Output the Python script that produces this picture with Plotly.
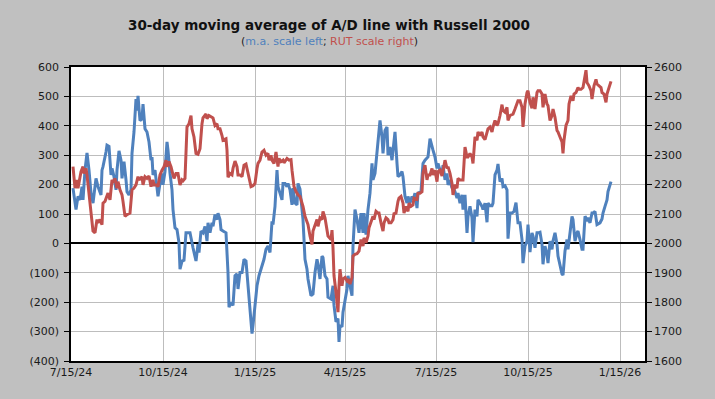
import plotly.graph_objects as go

# ---------------- data ----------------
ma_dates = [
    "2024-07-17", "2024-07-20", "2024-07-22", "2024-07-24", "2024-07-26", "2024-07-27", "2024-07-29", "2024-07-31",
    "2024-08-02", "2024-08-04", "2024-08-06", "2024-08-09", "2024-08-11", "2024-08-14", "2024-08-15", "2024-08-16",
    "2024-08-19", "2024-08-20", "2024-08-22", "2024-08-24", "2024-08-25", "2024-08-27", "2024-08-29", "2024-08-30",
    "2024-09-01", "2024-09-03", "2024-09-04", "2024-09-06", "2024-09-08", "2024-09-09", "2024-09-11", "2024-09-13",
    "2024-09-14", "2024-09-16", "2024-09-18", "2024-09-19", "2024-09-20", "2024-09-22", "2024-09-24", "2024-09-25",
    "2024-09-27", "2024-09-29", "2024-10-01", "2024-10-03", "2024-10-04", "2024-10-05", "2024-10-07", "2024-10-09",
    "2024-10-10", "2024-10-12", "2024-10-14", "2024-10-15", "2024-10-17", "2024-10-19", "2024-10-20", "2024-10-22",
    "2024-10-24", "2024-10-25", "2024-10-27", "2024-10-29", "2024-10-31", "2024-11-01", "2024-11-03", "2024-11-05",
    "2024-11-07", "2024-11-11", "2024-11-13", "2024-11-14", "2024-11-17", "2024-11-19", "2024-11-20", "2024-11-22",
    "2024-11-24", "2024-11-26", "2024-11-28", "2024-11-29", "2024-12-01", "2024-12-03", "2024-12-04", "2024-12-06",
    "2024-12-08", "2024-12-09", "2024-12-11", "2024-12-12", "2024-12-14", "2024-12-17", "2024-12-19", "2024-12-20",
    "2024-12-22", "2024-12-24", "2024-12-26", "2024-12-28", "2024-12-29", "2024-12-31", "2025-01-02", "2025-01-04",
    "2025-01-06", "2025-01-08", "2025-01-10", "2025-01-12", "2025-01-13", "2025-01-15", "2025-01-17", "2025-01-19",
    "2025-01-22", "2025-01-24", "2025-01-26", "2025-01-28", "2025-01-30", "2025-02-01", "2025-02-02", "2025-02-04",
    "2025-02-06", "2025-02-07", "2025-02-09", "2025-02-11", "2025-02-12", "2025-02-14", "2025-02-16", "2025-02-17",
    "2025-02-19", "2025-02-21", "2025-02-22", "2025-02-24", "2025-02-26", "2025-02-27", "2025-03-01", "2025-03-03",
    "2025-03-04", "2025-03-06", "2025-03-08", "2025-03-09", "2025-03-12", "2025-03-14", "2025-03-16", "2025-03-18",
    "2025-03-19", "2025-03-21", "2025-03-23", "2025-03-24", "2025-03-26", "2025-03-28", "2025-03-29", "2025-04-01",
    "2025-04-03", "2025-04-04", "2025-04-06", "2025-04-08", "2025-04-09", "2025-04-10", "2025-04-12", "2025-04-13",
    "2025-04-15", "2025-04-17", "2025-04-18", "2025-04-20", "2025-04-22", "2025-04-23", "2025-04-25", "2025-04-27",
    "2025-04-29", "2025-05-01", "2025-05-03", "2025-05-04", "2025-05-06", "2025-05-08", "2025-05-10", "2025-05-12",
    "2025-05-13", "2025-05-15", "2025-05-17", "2025-05-18", "2025-05-20", "2025-05-22", "2025-05-23", "2025-05-25",
    "2025-05-27", "2025-05-28", "2025-05-30", "2025-06-01", "2025-06-02", "2025-06-04", "2025-06-06", "2025-06-07",
    "2025-06-09", "2025-06-11", "2025-06-12", "2025-06-14", "2025-06-16", "2025-06-17", "2025-06-19", "2025-06-21",
    "2025-06-22", "2025-06-24", "2025-06-26", "2025-06-27", "2025-06-30", "2025-07-02", "2025-07-04", "2025-07-07",
    "2025-07-09", "2025-07-11", "2025-07-12", "2025-07-14", "2025-07-16", "2025-07-17", "2025-07-19", "2025-07-21",
    "2025-07-22", "2025-07-24", "2025-07-26", "2025-07-27", "2025-07-29", "2025-07-31", "2025-08-01", "2025-08-03",
    "2025-08-05", "2025-08-06", "2025-08-08", "2025-08-10", "2025-08-11", "2025-08-13", "2025-08-15", "2025-08-16",
    "2025-08-18", "2025-08-20", "2025-08-21", "2025-08-23", "2025-08-25", "2025-08-26", "2025-08-28", "2025-08-30",
    "2025-08-31", "2025-09-02", "2025-09-04", "2025-09-05", "2025-09-07", "2025-09-09", "2025-09-10", "2025-09-12",
    "2025-09-14", "2025-09-15", "2025-09-17", "2025-09-19", "2025-09-20", "2025-09-22", "2025-09-24", "2025-09-25",
    "2025-09-27", "2025-09-29", "2025-10-01", "2025-10-03", "2025-10-05", "2025-10-07", "2025-10-09", "2025-10-10",
    "2025-10-12", "2025-10-14", "2025-10-15", "2025-10-17", "2025-10-19", "2025-10-20", "2025-10-22", "2025-10-24",
    "2025-10-25", "2025-10-27", "2025-10-29", "2025-10-30", "2025-11-01", "2025-11-03", "2025-11-04", "2025-11-06",
    "2025-11-08", "2025-11-09", "2025-11-11", "2025-11-13", "2025-11-14", "2025-11-16", "2025-11-18", "2025-11-19",
    "2025-11-21", "2025-11-23", "2025-11-24", "2025-11-26", "2025-11-28", "2025-11-29", "2025-12-01", "2025-12-03",
    "2025-12-04", "2025-12-06", "2025-12-08", "2025-12-09", "2025-12-11", "2025-12-13", "2025-12-14", "2025-12-16",
    "2025-12-18", "2025-12-19", "2025-12-21", "2025-12-23", "2025-12-24", "2025-12-26", "2025-12-28", "2025-12-29",
    "2025-12-31", "2026-01-02", "2026-01-03", "2026-01-05", "2026-01-06",
]
ma_values = [
    188, 115, 160, 148, 193, 148, 249, 308,
    249, 171, 137, 221, 193, 165, 249, 261,
    311, 334, 330, 233, 255, 227, 182, 249,
    315, 283, 221, 278, 216, 176, 165, 182,
    306, 379, 491, 452, 502, 418, 424, 474,
    390, 379, 345, 283, 294, 233, 249, 171,
    160, 204, 238, 199, 244, 345, 317, 238,
    182, 115, 53, 47, 2, -88, -60, -57,
    36, 36, -9, -15, -60, -3, -31, 42,
    36, 58, 8, 70, 36, 70, 58, 98,
    81, 103, 81, 47, 42, 36, -99, -217,
    -200, -211, -110, -104, -155, -99, -99, -54,
    -60, -144, -234, -307, -279, -200, -144, -110,
    -76, -54, -20, -9, -31, 75, 64, 126,
    249, 193, 171, 148, 204, 204, 193, 204,
    182, 131, 188, 137, 131, 204, 185, 103,
    81, -54, -88, -121, -178, -172, -99, -54,
    -71, -121, -43, -48, -110, -121, -183, -189,
    -144, -211, -267, -256, -335, -279, -284, -234,
    -200, -155, -110, -144, -178, -9, 115, 81,
    36, 103, 36, 103, 30, 115, 171, 272,
    216, 238, 317, 356, 418, 362, 306, 384,
    396, 300, 328, 283, 317, 379, 272, 227,
    233, 244, 227, 160, 137, 160, 137, 160,
    148, 171, 120, 171, 176, 272, 283, 294,
    356, 322, 317, 294, 255, 272, 249, 238,
    266, 216, 238, 199, 216, 188, 193, 176,
    154, 171, 137, 165, 115, 165, 36, 92,
    126, 87, 4, 115, 92, 148, 137, 126,
    115, 137, 72, 137, 128, 128, 137, 233,
    249, 270, 210, 221, 193, 196, 182, 16,
    103, 103, 109, 139, 70, 70, 13, -67,
    -9, 8, 64, -30, 36, 25, -15, 36,
    36, 38, -3, -71, -9, -37, -67, 8,
    -20, 8, 36, -3, -43, -76, -104, -108,
    -26, 13, -20, 36, 92, 81, 8, 36,
    42, 13, -20, -20, 92, 81, 87, 70,
    103, 103, 109, 64, 67, 70, 83, 103,
    126, 148, 176, 204, 210,
]

rut_dates = [
    "2024-07-17", "2024-07-19", "2024-07-21", "2024-07-22", "2024-07-25", "2024-07-27", "2024-07-28", "2024-07-30",
    "2024-07-31", "2024-08-02", "2024-08-04", "2024-08-06", "2024-08-08", "2024-08-10", "2024-08-11", "2024-08-13",
    "2024-08-15", "2024-08-16", "2024-08-18", "2024-08-20", "2024-08-21", "2024-08-23", "2024-08-25", "2024-08-26",
    "2024-08-28", "2024-08-30", "2024-08-31", "2024-09-02", "2024-09-04", "2024-09-05", "2024-09-07", "2024-09-09",
    "2024-09-12", "2024-09-14", "2024-09-16", "2024-09-18", "2024-09-20", "2024-09-21", "2024-09-24", "2024-09-25",
    "2024-09-27", "2024-09-29", "2024-10-01", "2024-10-03", "2024-10-05", "2024-10-06", "2024-10-09", "2024-10-10",
    "2024-10-12", "2024-10-14", "2024-10-16", "2024-10-18", "2024-10-19", "2024-10-21", "2024-10-23", "2024-10-25",
    "2024-10-26", "2024-10-28", "2024-10-30", "2024-11-01", "2024-11-03", "2024-11-04", "2024-11-06", "2024-11-08",
    "2024-11-10", "2024-11-12", "2024-11-13", "2024-11-15", "2024-11-17", "2024-11-19", "2024-11-21", "2024-11-23",
    "2024-11-24", "2024-11-27", "2024-11-28", "2024-11-30", "2024-12-02", "2024-12-04", "2024-12-06", "2024-12-08",
    "2024-12-09", "2024-12-11", "2024-12-13", "2024-12-14", "2024-12-17", "2024-12-18", "2024-12-19", "2024-12-21",
    "2024-12-23", "2024-12-24", "2024-12-26", "2024-12-28", "2024-12-29", "2024-12-31", "2025-01-02", "2025-01-04",
    "2025-01-06", "2025-01-07", "2025-01-09", "2025-01-11", "2025-01-13", "2025-01-15", "2025-01-17", "2025-01-18",
    "2025-01-20", "2025-01-22", "2025-01-24", "2025-01-26", "2025-01-28", "2025-01-29", "2025-01-31", "2025-02-01",
    "2025-02-03", "2025-02-05", "2025-02-07", "2025-02-08", "2025-02-10", "2025-02-12", "2025-02-13", "2025-02-16",
    "2025-02-18", "2025-02-20", "2025-02-21", "2025-02-23", "2025-02-25", "2025-02-27", "2025-03-01", "2025-03-03",
    "2025-03-04", "2025-03-06", "2025-03-08", "2025-03-09", "2025-03-11", "2025-03-13", "2025-03-14", "2025-03-16",
    "2025-03-18", "2025-03-19", "2025-03-21", "2025-03-23", "2025-03-24", "2025-03-26", "2025-03-28", "2025-03-29",
    "2025-04-01", "2025-04-02", "2025-04-03", "2025-04-04", "2025-04-06", "2025-04-08", "2025-04-09", "2025-04-10",
    "2025-04-12", "2025-04-13", "2025-04-15", "2025-04-17", "2025-04-18", "2025-04-20", "2025-04-22", "2025-04-23",
    "2025-04-25", "2025-04-27", "2025-04-29", "2025-05-01", "2025-05-03", "2025-05-04", "2025-05-06", "2025-05-08",
    "2025-05-09", "2025-05-11", "2025-05-13", "2025-05-14", "2025-05-16", "2025-05-18", "2025-05-19", "2025-05-21",
    "2025-05-23", "2025-05-24", "2025-05-26", "2025-05-28", "2025-05-29", "2025-05-31", "2025-06-02", "2025-06-03",
    "2025-06-05", "2025-06-07", "2025-06-08", "2025-06-10", "2025-06-12", "2025-06-13", "2025-06-15", "2025-06-17",
    "2025-06-18", "2025-06-20", "2025-06-22", "2025-06-23", "2025-06-26", "2025-06-27", "2025-06-29", "2025-07-01",
    "2025-07-02", "2025-07-04", "2025-07-06", "2025-07-07", "2025-07-09", "2025-07-11", "2025-07-12", "2025-07-14",
    "2025-07-16", "2025-07-17", "2025-07-19", "2025-07-21", "2025-07-22", "2025-07-24", "2025-07-26", "2025-07-27",
    "2025-07-29", "2025-07-31", "2025-08-01", "2025-08-03", "2025-08-05", "2025-08-06", "2025-08-08", "2025-08-11",
    "2025-08-13", "2025-08-15", "2025-08-16", "2025-08-18", "2025-08-20", "2025-08-21", "2025-08-23", "2025-08-25",
    "2025-08-26", "2025-08-28", "2025-08-30", "2025-08-31", "2025-09-02", "2025-09-04", "2025-09-05", "2025-09-07",
    "2025-09-09", "2025-09-10", "2025-09-12", "2025-09-14", "2025-09-15", "2025-09-17", "2025-09-19", "2025-09-20",
    "2025-09-22", "2025-09-24", "2025-09-25", "2025-09-27", "2025-09-29", "2025-09-30", "2025-10-02", "2025-10-04",
    "2025-10-05", "2025-10-07", "2025-10-09", "2025-10-10", "2025-10-12", "2025-10-14", "2025-10-15", "2025-10-17",
    "2025-10-19", "2025-10-20", "2025-10-22", "2025-10-24", "2025-10-25", "2025-10-27", "2025-10-29", "2025-10-30",
    "2025-11-01", "2025-11-03", "2025-11-04", "2025-11-06", "2025-11-08", "2025-11-09", "2025-11-11", "2025-11-13",
    "2025-11-14", "2025-11-16", "2025-11-18", "2025-11-19", "2025-11-20", "2025-11-22", "2025-11-24", "2025-11-25",
    "2025-11-27", "2025-11-29", "2025-11-30", "2025-12-02", "2025-12-04", "2025-12-05", "2025-12-07", "2025-12-09",
    "2025-12-10", "2025-12-12", "2025-12-13", "2025-12-15", "2025-12-17", "2025-12-18", "2025-12-20", "2025-12-22",
    "2025-12-23", "2025-12-25", "2025-12-27", "2025-12-28", "2025-12-30", "2026-01-01", "2026-01-02", "2026-01-04",
    "2026-01-06",
]
rut_values = [
    2261, 2188, 2216, 2188, 2244, 2261, 2238, 2255,
    2233, 2171, 2103, 2042, 2036, 2081, 2070, 2081,
    2064, 2137, 2143, 2160, 2171, 2148, 2216, 2210,
    2221, 2188, 2210, 2182, 2165, 2143, 2092, 2098,
    2103, 2182, 2188, 2199, 2227, 2216, 2227, 2199,
    2227, 2221, 2229, 2193, 2216, 2199, 2199, 2193,
    2233, 2249, 2261, 2283, 2261, 2278, 2261, 2233,
    2221, 2238, 2238, 2199, 2216, 2213, 2221, 2396,
    2407, 2435, 2390, 2362, 2306, 2303, 2322, 2407,
    2427, 2440, 2424, 2435, 2431, 2427, 2401, 2407,
    2390, 2390, 2367, 2351, 2356, 2317, 2225, 2238,
    2233, 2255, 2280, 2261, 2233, 2233, 2227, 2266,
    2270, 2255, 2233, 2193, 2196, 2204, 2255, 2272,
    2283, 2311, 2317, 2300, 2306, 2283, 2300, 2283,
    2272, 2311, 2261, 2289, 2278, 2283, 2274, 2289,
    2283, 2285, 2249, 2193, 2176, 2165, 2160, 2140,
    2126, 2092, 2070, 2064, 2025, 1997, 2042, 2064,
    2081, 2058, 2087, 2081, 2109, 2087, 2053, 2025,
    2013, 2045, 1985, 1890, 1834, 1766, 1856, 1912,
    1856, 1879, 1884, 1873, 1879, 1862, 1884, 1957,
    1963, 1965, 1974, 2013, 1991, 2019, 2002, 2025,
    2053, 2070, 2092, 2081, 2109, 2103, 2103, 2070,
    2042, 2070, 2087, 2081, 2070, 2070, 2081, 2101,
    2103, 2143, 2154, 2160, 2137, 2103, 2126, 2109,
    2137, 2126, 2131, 2154, 2150, 2171, 2171, 2176,
    2238, 2266, 2216, 2233, 2233, 2255, 2233, 2249,
    2210, 2244, 2249, 2229, 2244, 2283, 2255, 2261,
    2238, 2204, 2165, 2199, 2188, 2221, 2216, 2216,
    2328, 2294, 2294, 2306, 2294, 2272, 2362, 2351,
    2379, 2367, 2379, 2362, 2353, 2379, 2390, 2396,
    2379, 2396, 2418, 2401, 2407, 2435, 2472, 2452,
    2446, 2463, 2418, 2435, 2440, 2440, 2457, 2480,
    2485, 2485, 2463, 2396, 2474, 2513, 2519, 2480,
    2460, 2497, 2457, 2513, 2519, 2519, 2508, 2463,
    2508, 2474, 2469, 2418, 2435, 2457, 2429, 2384,
    2379, 2362, 2345, 2306, 2351, 2401, 2418, 2474,
    2502, 2485, 2508, 2513, 2530, 2524, 2524, 2530,
    2553, 2589, 2547, 2536, 2519, 2491, 2536, 2558,
    2542, 2536, 2530, 2513, 2508, 2480, 2508, 2530,
    2551,
]

left_tickvals = [600, 500, 400, 300, 200, 100, 0, -100, -200, -300, -400]
left_ticktext = ["600", "500", "400", "300", "200", "100", "0", "(100)", "(200)", "(300)", "(400)"]
right_tickvals = [2600, 2500, 2400, 2300, 2200, 2100, 2000, 1900, 1800, 1700, 1600]
x_tickvals = ["2024-07-15", "2024-10-15", "2025-01-15", "2025-04-15", "2025-07-15", "2025-10-15", "2026-01-15"]
x_ticktext = ["7/15/24", "10/15/24", "1/15/25", "4/15/25", "7/15/25", "10/15/25", "1/15/26"]
x_range = ["2024-07-15", "2026-02-09"]
left_range = [-400, 600]
right_range = [1600, 2600]

title_text = "30-day moving average of A/D line with Russell 2000"

BLUE = "#4f81bd"
RED = "#c0504d"
GRID = "#bdbdbd"
FONT = "DejaVu Sans"

fig = go.Figure()
fig.add_trace(go.Scatter(x=ma_dates, y=ma_values, mode="lines", name="m.a.",
                         line=dict(color=BLUE, width=3), xaxis="x", yaxis="y"))
fig.add_trace(go.Scatter(x=rut_dates, y=rut_values, mode="lines", name="RUT",
                         line=dict(color=RED, width=3), xaxis="x", yaxis="y2"))

fig.update_layout(
    width=715, height=399,
    paper_bgcolor="#c0c0c0", plot_bgcolor="white",
    margin=dict(l=71, r=70, t=67, b=38),
    showlegend=False,
    font=dict(family=FONT, size=11, color="#1a1a1a"),
    title=dict(text="<b>" + title_text + "</b>", x=0.46, xanchor="center",
               y=1 - 25 / 399, yanchor="middle", yref="container",
               font=dict(family=FONT, size=13.5, color="#111111")),
    xaxis=dict(type="date", range=x_range, tickvals=x_tickvals, ticktext=x_ticktext,
               showgrid=True, gridcolor=GRID, gridwidth=1,
               showline=True, linecolor="black", linewidth=1.5, mirror=True,
               ticks="", zeroline=False, tickfont=dict(size=11, color="#1a1a1a")),
    xaxis2=dict(type="date", range=x_range, tickvals=x_tickvals, overlaying="x",
                anchor="free", position=0.4, showticklabels=False, showgrid=False,
                showline=False, ticks="outside", ticklen=3, tickcolor="black", tickwidth=1),
    yaxis=dict(range=left_range, tickvals=left_tickvals, ticktext=left_ticktext,
               showgrid=True, gridcolor=GRID, gridwidth=1,
               zeroline=True, zerolinecolor="black", zerolinewidth=1.5,
               showline=True, linecolor="black", linewidth=1.5,
               ticks="outside", ticklen=5, tickcolor="black", tickwidth=1,
               ticklabelstandoff=3, tickfont=dict(size=11, color="#1a1a1a")),
    yaxis2=dict(range=right_range, tickvals=right_tickvals, overlaying="y", side="right",
                showgrid=False, zeroline=False,
                showline=True, linecolor="black", linewidth=1.5,
                ticks="outside", ticklen=5, tickcolor="black", tickwidth=1,
                tickfont=dict(size=11, color="#1a1a1a")),
    annotations=[dict(
        text='(<span style="color:%s">m.a. scale left</span>; '
             '<span style="color:%s">RUT scale right</span>)' % (BLUE, RED),
        xref="paper", yref="paper", x=0.4495, y=1.087, xanchor="center", yanchor="middle",
        showarrow=False, font=dict(family=FONT, size=11, color="#222222"))],
)

fig.write_html("out.html", config={"displayModeBar": False},
               post_script="document.body.style.margin='0';")
